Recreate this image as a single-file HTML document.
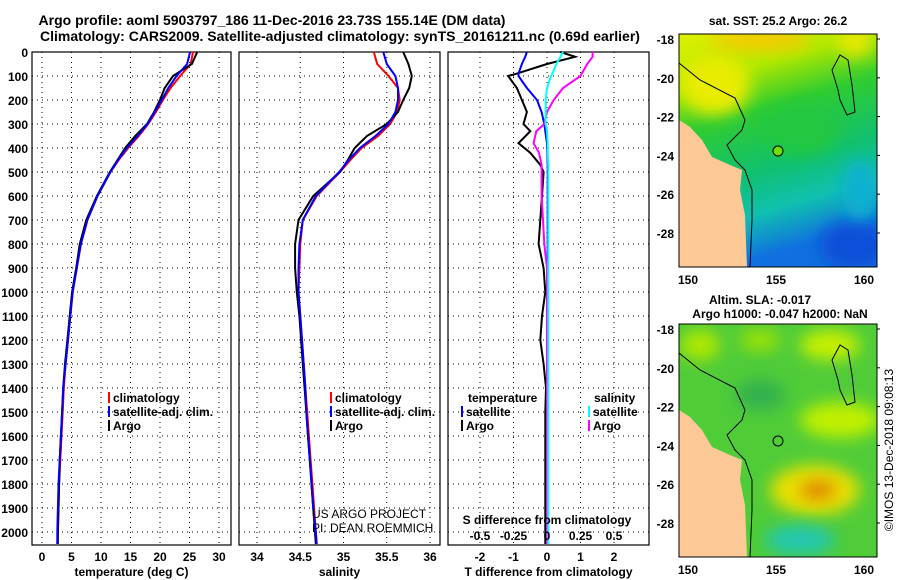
<!DOCTYPE html>
<html><head><meta charset="utf-8">
<style>
body{margin:0;background:#fff;}
svg{display:block;font-family:"Liberation Sans",sans-serif;}
.b{font-weight:bold;}
</style></head>
<body>
<svg id="fig" width="900" height="580" viewBox="0 0 900 580">
<defs>
<linearGradient id="sstg" x1="0" y1="0" x2="0.25" y2="1">
<stop offset="0" stop-color="#e0f000"/><stop offset="0.22" stop-color="#b0e800"/><stop offset="0.4" stop-color="#30cc30"/><stop offset="0.65" stop-color="#10c070"/><stop offset="0.82" stop-color="#10c0b0"/><stop offset="1" stop-color="#1070e0"/>
</linearGradient>
<filter id="blur" x="-50%" y="-50%" width="200%" height="200%"><feGaussianBlur stdDeviation="8"/></filter>
<clipPath id="cm1"><rect x="679" y="34" width="198" height="233"/></clipPath>
<clipPath id="cm2"><rect x="679" y="324" width="198" height="233"/></clipPath>
</defs>
<text x="272" y="25" text-anchor="middle" class="b" font-size="14">Argo profile: aoml 5903797_186 11-Dec-2016 23.73S 155.14E (DM data)</text>
<text x="340" y="41" text-anchor="middle" class="b" font-size="14">Climatology: CARS2009. Satellite-adjusted climatology: synTS_20161211.nc (0.69d earlier)</text>
<g id="plots"></g>
<g>
<text x="778" y="25" text-anchor="middle" class="b" font-size="12">sat. SST: 25.2 Argo: 26.2</text>
<g clip-path="url(#cm1)">
<rect x="679" y="34" width="198" height="233" fill="url(#sstg)"/>
<ellipse cx="715" cy="85" rx="35" ry="30" fill="#e8ec00" filter="url(#blur)"/>
<ellipse cx="760" cy="40" rx="50" ry="10" fill="#f8c800" filter="url(#blur)"/>
<ellipse cx="855" cy="42" rx="18" ry="14" fill="#e8e800" filter="url(#blur)"/>
<ellipse cx="800" cy="130" rx="40" ry="25" fill="#20c840" filter="url(#blur)"/>
<ellipse cx="855" cy="245" rx="35" ry="25" fill="#0850d8" filter="url(#blur)"/>
<ellipse cx="860" cy="190" rx="18" ry="30" fill="#10b0d0" filter="url(#blur)"/>
<circle cx="778" cy="151" r="5" fill="#70e000" stroke="#000" stroke-width="1"/>
</g>
<path d="M679,120 L690,127 L702,140 L712,157 L730,165 L742,170 L740,190 L745,215 L747,267 L679,267Z" fill="#fcc896"/>
<path d="M679,63 L700,80 L735,98 L745,120 L742,130 L727,145 L735,160 L745,170 L752,190 L752,220 L750,267 M838,90 L832,70 L840,55 L848,60 L852,85 L855,112 L847,115 L840,100Z" fill="none" stroke="#000" stroke-width="1"/>
<rect x="679" y="34" width="198" height="233" fill="none" stroke="#000"/>
</g>
<g>
<text x="760" y="304" text-anchor="middle" class="b" font-size="12">Altim. SLA: -0.017</text>
<text x="780" y="318" text-anchor="middle" class="b" font-size="12">Argo h1000: -0.047 h2000: NaN</text>
<g clip-path="url(#cm2)">
<rect x="679" y="324" width="198" height="233" fill="#50cc38"/>
<ellipse cx="830" cy="345" rx="30" ry="15" fill="#c8f000" filter="url(#blur)"/>
<ellipse cx="700" cy="345" rx="20" ry="15" fill="#b0e800" filter="url(#blur)"/>
<ellipse cx="760" cy="340" rx="20" ry="10" fill="#a0e400" filter="url(#blur)"/>
<ellipse cx="840" cy="420" rx="40" ry="18" fill="#c0f000" filter="url(#blur)"/>
<ellipse cx="815" cy="490" rx="45" ry="25" fill="#e8e000" filter="url(#blur)"/>
<ellipse cx="818" cy="490" rx="18" ry="10" fill="#e08800" filter="url(#blur)"/>
<ellipse cx="800" cy="540" rx="35" ry="15" fill="#20c8b0" filter="url(#blur)"/>
<ellipse cx="760" cy="395" rx="25" ry="15" fill="#30b050" filter="url(#blur)"/>
<circle cx="778" cy="441" r="5" fill="none" stroke="#000" stroke-width="1"/>
</g>
<path d="M679,410 L690,417 L702,430 L712,447 L730,455 L742,460 L740,480 L745,505 L747,557 L679,557Z" fill="#fcc896"/>
<path d="M679,353 L700,370 L735,388 L745,410 L742,420 L727,435 L735,450 L745,460 L752,480 L752,510 L750,557 M838,380 L832,360 L840,345 L848,350 L852,375 L855,402 L847,405 L840,390Z" fill="none" stroke="#000" stroke-width="1"/>
<rect x="679" y="324" width="198" height="233" fill="none" stroke="#000"/>
</g>
<text transform="translate(893,450) rotate(-90)" text-anchor="middle" font-size="12">©IMOS 13-Dec-2018 09:08:13</text>
<text x="312" y="518" font-size="12">US ARGO PROJECT</text>
<text x="312" y="532" font-size="12">PI: DEAN ROEMMICH</text>
</svg>
<script>
const depths=[0,50,100,150,200,250,300,350,400,450,500,600,700,800,900,1000,1100,1200,1300,1400,1500,1600,1700,1800,1900,2000,2050];
const tempArgo=[26.3,25.4,22.2,20.8,20.0,19.0,17.8,15.8,14.1,12.8,11.5,9.3,7.5,6.4,5.8,5.1,4.7,4.3,3.9,3.6,3.4,3.2,3.0,2.9,2.8,2.7,2.7];
const tempClim=[25.6,25.2,23.4,21.8,20.5,19.3,18.0,16.4,14.6,13.0,11.6,9.4,7.7,6.6,5.9,5.2,4.8,4.4,4.0,3.7,3.5,3.3,3.1,2.9,2.8,2.7,2.6];
const tempSat=[25.1,24.6,22.8,21.4,20.3,19.1,17.9,16.2,14.4,12.9,11.6,9.4,7.7,6.6,5.9,5.2,4.8,4.4,4.0,3.6,3.4,3.2,3.0,2.8,2.7,2.6,2.6];
const salArgo=[35.69,35.75,35.79,35.76,35.69,35.63,35.50,35.27,35.13,35.05,34.96,34.65,34.48,34.44,34.44,34.46,34.49,34.51,34.53,34.55,34.57,34.59,34.61,34.63,34.65,34.67,34.68];
const salClim=[35.35,35.39,35.52,35.63,35.65,35.62,35.54,35.40,35.21,35.08,34.96,34.69,34.53,34.50,34.49,34.48,34.50,34.52,34.54,34.56,34.58,34.60,34.62,34.64,34.66,34.68,34.69];
const salSat=[35.46,35.50,35.60,35.63,35.63,35.60,35.52,35.37,35.19,35.06,34.95,34.68,34.53,34.49,34.48,34.48,34.50,34.52,34.54,34.56,34.57,34.59,34.61,34.63,34.65,34.68,34.69];
const diffDepths=[0,20,50,90,100,150,200,250,300,330,380,420,470,500,600,700,800,900,1000,1100,1200,1300,1400,1500,1600,1700,1800,1900,2000,2050];
const tDiffArgo=[0.4,0.84,0.0,-0.9,-1.16,-0.9,-0.75,-0.6,-0.7,-0.5,-0.85,-0.5,-0.2,-0.1,-0.15,-0.2,-0.25,-0.1,-0.05,-0.15,-0.2,-0.1,-0.03,-0.05,-0.05,-0.05,-0.05,-0.05,-0.05,-0.05];
const tDiffSat=[-0.6,-0.65,-0.75,-0.85,-0.85,-0.6,-0.3,-0.16,-0.08,-0.05,0,0.01,0.02,0.02,0.02,0.02,0.02,0.02,0.01,0.01,0.01,0.01,0,0,0,0,0,0,0,0];
const sDiffArgo=[0.34,0.34,0.3,0.26,0.25,0.12,0.05,0.0,-0.02,-0.08,-0.1,-0.06,-0.04,-0.04,-0.04,-0.03,-0.02,0,0,0,0,0,0,0,0,0,0,0,0,0];
const sDiffSat=[0.12,0.1,0.07,0.04,0.03,0.0,-0.01,-0.01,-0.01,0,0.005,0.005,0.01,0.01,0.01,0.01,0.01,0.01,0.01,0.01,0.01,0.01,0.01,0.01,0.01,0.01,0.01,0.01,0.01,0.01];
const depthTicks=[0,100,200,300,400,500,600,700,800,900,1000,1100,1200,1300,1400,1500,1600,1700,1800,1900,2000];
const tempTicks=[0,5,10,15,20,25,30];
const salTicks=[34,34.5,35,35.5,36];
const tDiffTicks=[-2,-1,0,1,2];
const sDiffTicks=[-0.5,-0.25,0,0.25,0.5];

const NS='http://www.w3.org/2000/svg';
const G=document.getElementById('plots');
const TOP=52,BOT=545;
const yScale=p=>TOP+(p-0)*0.24;
function mk(tag,attrs,parent){const e=document.createElementNS(NS,tag);for(const k in attrs)e.setAttribute(k,attrs[k]);(parent||G).appendChild(e);return e;}
function txt(x,y,s,anchor,size,bold,parent){const t=mk('text',{x:x,y:y,'text-anchor':anchor,'font-size':size},parent);if(bold)t.setAttribute('font-weight','bold');t.textContent=s;return t;}

const panels=[
 {name:'temperature',x0:32,x1:231,xs:v=>42+5.9*v,ticks:tempTicks,label:'temperature (deg C)'},
 {name:'salinity',x0:239,x1:440,xs:v=>257+86.5*(v-34),ticks:salTicks,label:'salinity'},
 {name:'difference',x0:448,x1:649,xs:v=>547+33.5*v,ticks:tDiffTicks,label:'T difference from climatology'}
];
const sDiffScale=v=>547+134*v;

panels.forEach((P,i)=>{
 const g=mk('g',{});
 
 
 depthTicks.forEach(d=>{
  const l=mk('line',{x1:P.x0,x2:P.x1,y1:yScale(d),y2:yScale(d),stroke:'#000','stroke-width':1,'stroke-dasharray':'1,4'},g);
  
  
  if(i===0){const t=txt(28,yScale(d)+5,String(d),'end',12,true,g);
   
   }
 });
 P.ticks.forEach(v=>{
  const x=P.xs(v);
  const l=mk('line',{x1:x,x2:x,y1:TOP,y2:BOT,stroke:'#000','stroke-width':1,'stroke-dasharray':'1,4'},g);
  
  
  const t=txt(x,561,String(v),'middle',12,true,g);
  
  
 });
 const f=mk('rect',{x:P.x0,y:TOP,width:P.x1-P.x0,height:BOT-TOP,fill:'none',stroke:'#000','stroke-width':1.2},g);
 
 
 const at=txt((P.x0+P.x1)/2,576,P.label,'middle',12,true,g);
 
 
});

function line(vals,dep,xs,color,name){
 const pts=vals.map((v,k)=>xs(v).toFixed(1)+','+yScale(dep[k]).toFixed(1)).join(' ');
 const p=mk('polyline',{points:pts,fill:'none',stroke:color,'stroke-width':2});
 
 
}
line(tempClim,depths,panels[0].xs,'#ff0000','temp-climatology-line');
line(tempArgo,depths,panels[0].xs,'#000000','temp-argo-line');
line(tempSat,depths,panels[0].xs,'#0000ff','temp-satellite-line');
line(salClim,depths,panels[1].xs,'#ff0000','sal-climatology-line');
line(salArgo,depths,panels[1].xs,'#000000','sal-argo-line');
line(salSat,depths,panels[1].xs,'#0000ff','sal-satellite-line');
line(tDiffArgo,diffDepths,panels[2].xs,'#000000','tdiff-argo-line');
line(tDiffSat,diffDepths,panels[2].xs,'#0000ff','tdiff-satellite-line');
line(sDiffArgo,diffDepths,sDiffScale,'#ff00ff','sdiff-argo-line');
line(sDiffSat,diffDepths,sDiffScale,'#00ffff','sdiff-satellite-line');

const sdt=txt(547,524,'S difference from climatology','middle',12,true);


sDiffTicks.forEach(v=>{
 const t=txt(sDiffScale(v),540,String(v),'middle',12,true);
 
 
});

function legend(x,y,color,label){
 const g=mk('g',{});
 
 
 mk('rect',{x:x,y:y-10,width:2,height:11,fill:color},g);
 txt(x+5,y,label,'start',12,true,g);
}
legend(108,402,'#ff0000','climatology');
legend(108,416,'#0000ff','satellite-adj. clim.');
legend(108,430,'#000000','Argo');
legend(330,402,'#ff0000','climatology');
legend(330,416,'#0000ff','satellite-adj. clim.');
legend(330,430,'#000000','Argo');
const lt=txt(468,402,'temperature','start',12,true);


const ls=txt(594,402,'salinity','start',12,true);


legend(461,416,'#0000ff','satellite');
legend(461,430,'#000000','Argo');
legend(588,416,'#00ffff','satellite');
legend(588,430,'#ff00ff','Argo');

const lonTicks=[150,155,160];
const latTicks=[-18,-20,-22,-24,-26,-28];
[[34,267],[324,557]].forEach(([t,b])=>{
 lonTicks.forEach(lo=>{
  const x=688+17.6*(lo-150);
  const tl=txt(x,b+17,String(lo),'middle',12,true);
  
  
  mk('line',{x1:x,x2:x,y1:b,y2:b-3,stroke:'#000'});
  mk('line',{x1:x,x2:x,y1:t,y2:t+3,stroke:'#000'});
 });
 latTicks.forEach(la=>{
  const y=t+5+19.4*(-18-la);
  const tl=txt(674,y+5,String(la),'end',12,true);
  
  
  mk('line',{x1:877,x2:880,y1:y,y2:y,stroke:'#000'});
 });
});
</script>
</body></html>
